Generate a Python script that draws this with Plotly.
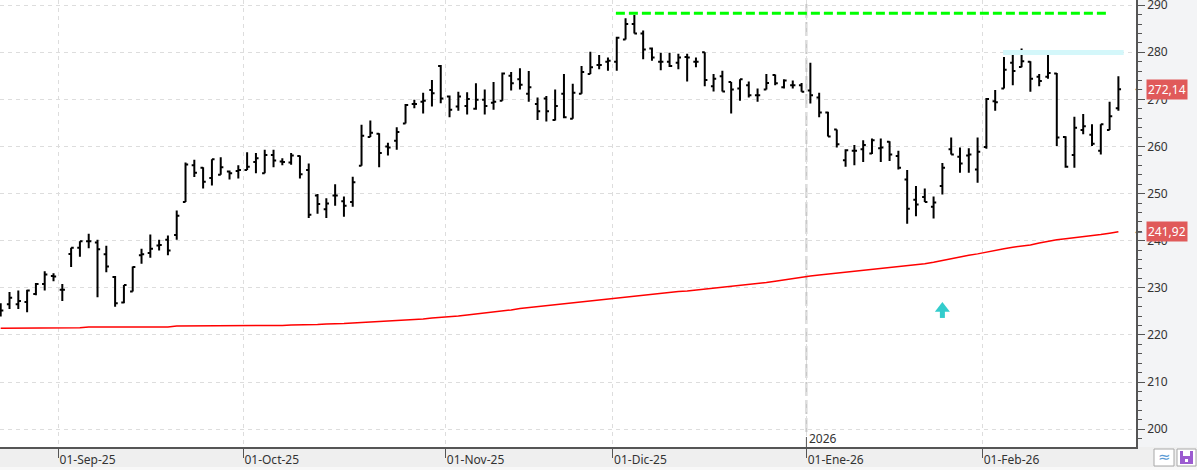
import plotly.graph_objects as go

# ---------------- data ----------------
opens = [225.5, 226.5, 226.5, 227.0, 228.7, 230.8, 232.5, 229.6, 237.2, 238.5,
         239.9, 239.6, 237.1, 232.3, 226.9, 229.2, 236.9, 237.4, 239.0, 240.2,
         241.2, 248.2, 256.0, 255.5, 253.3, 254.0, 254.7, 254.8, 255.0, 256.7,
         254.3, 258.2, 256.8, 256.6, 258.0, 255.0, 249.6, 246.7, 249.6, 248.4,
         248.2, 255.9, 262.0, 262.7, 260.0, 261.2, 264.9, 269.0, 269.5, 272.0,
         277.1, 270.6, 268.5, 268.6, 268.0, 269.9, 269.3, 269.7, 275.0, 274.3,
         271.2, 269.0, 270.2, 265.6, 271.2, 265.9, 271.2, 275.4, 277.3, 278.0,
         278.0, 282.7, 286.0, 284.0, 280.8, 278.0, 278.0, 277.8, 279.0, 278.0,
         280.0, 272.8, 274.9, 273.7, 272.3, 273.0, 270.9, 272.1, 275.2, 272.6,
         273.0, 273.0, 271.9, 270.4, 267.2, 263.6, 257.1, 259.1, 259.4, 258.5,
         259.6, 261.0, 258.0, 253.0, 248.7, 249.3, 247.2, 251.6, 259.4, 257.8,
         258.1, 255.1, 259.9, 269.6, 272.3, 277.8, 276.9, 278.0, 274.8, 274.8,
         275.5, 262.0, 258.2, 263.5, 262.5, 259.1, 263.5, 268.1]
highs = [226.7, 229.1, 229.4, 229.6, 231.0, 233.5, 233.1, 230.8, 238.5, 239.9,
         241.5, 240.2, 238.9, 232.5, 230.6, 234.5, 238.3, 241.3, 240.2, 241.1,
         246.4, 256.6, 257.2, 255.6, 257.3, 257.7, 254.9, 256.0, 258.8, 258.6,
         259.3, 259.3, 257.5, 258.6, 258.1, 256.4, 249.9, 249.0, 252.0, 249.4,
         253.6, 264.6, 265.5, 262.8, 260.8, 264.1, 269.0, 269.9, 271.4, 274.1,
         277.3, 270.8, 271.6, 271.5, 273.4, 272.1, 273.7, 275.7, 275.8, 276.6,
         276.0, 270.4, 270.7, 272.1, 275.4, 273.3, 277.1, 280.1, 279.4, 278.9,
         283.3, 287.2, 287.9, 284.6, 281.0, 279.9, 279.9, 279.7, 279.7, 278.9,
         280.0, 275.4, 276.1, 273.7, 274.3, 273.8, 272.3, 275.4, 275.3, 274.3,
         274.0, 273.5, 277.8, 271.4, 267.4, 263.6, 259.4, 260.3, 261.3, 261.7,
         261.7, 261.1, 259.1, 255.0, 251.6, 251.1, 249.4, 256.5, 261.9, 259.8,
         259.6, 261.9, 270.3, 272.0, 279.0, 279.4, 280.8, 278.1, 275.4, 280.3,
         275.6, 262.2, 266.3, 266.9, 264.7, 264.7, 269.5, 274.9]
lows = [223.9, 225.5, 225.5, 224.8, 228.4, 229.4, 231.4, 227.2, 234.4, 236.6,
        238.4, 228.0, 233.3, 226.0, 226.7, 229.2, 235.1, 236.4, 237.9, 236.9,
        240.2, 248.2, 253.5, 251.1, 251.7, 254.0, 253.0, 253.2, 255.0, 254.3,
        254.3, 255.6, 256.0, 256.1, 253.2, 244.8, 245.7, 244.8, 247.4, 245.1,
        247.2, 255.9, 262.0, 255.6, 258.1, 259.3, 264.9, 268.1, 267.0, 268.5,
        269.2, 266.2, 267.6, 266.8, 267.8, 266.8, 267.8, 269.7, 271.9, 272.1,
        269.5, 265.6, 265.3, 265.5, 266.0, 265.9, 271.2, 275.4, 276.4, 276.1,
        276.1, 282.7, 284.0, 278.5, 278.2, 276.2, 276.9, 276.4, 273.8, 276.8,
        272.8, 271.7, 271.7, 267.0, 269.7, 270.4, 269.5, 272.1, 273.0, 272.3,
        272.3, 271.6, 269.1, 266.2, 262.1, 259.8, 255.7, 256.0, 256.7, 258.4,
        256.7, 256.9, 255.1, 243.6, 245.2, 248.2, 244.7, 249.8, 258.3, 254.4,
        254.4, 252.3, 259.5, 267.6, 272.3, 273.0, 276.8, 271.6, 272.8, 274.4,
        260.1, 255.5, 255.5, 262.6, 260.1, 258.3, 263.5, 267.6]
closes = [225.2, 227.9, 227.2, 229.4, 230.8, 232.8, 232.4, 229.6, 238.5, 239.9,
          239.9, 238.2, 234.5, 226.7, 230.6, 234.4, 237.1, 238.3, 239.1, 237.9,
          245.3, 256.2, 254.4, 252.5, 257.3, 255.6, 254.3, 255.0, 255.7, 257.5,
          258.2, 257.0, 256.7, 258.1, 254.1, 245.5, 247.8, 247.9, 249.6, 247.4,
          252.4, 262.3, 262.9, 258.6, 259.8, 263.1, 268.8, 269.0, 269.7, 271.3,
          270.2, 267.8, 270.6, 270.1, 269.9, 268.6, 269.5, 275.5, 273.4, 273.1,
          272.6, 267.5, 267.5, 268.6, 266.2, 271.4, 275.8, 276.8, 277.3, 278.2,
          283.1, 286.0, 284.0, 280.6, 278.9, 278.0, 277.1, 278.9, 278.9, 278.0,
          274.1, 274.4, 271.7, 272.1, 274.3, 270.9, 270.9, 273.5, 273.4, 274.0,
          273.0, 271.6, 270.9, 267.2, 262.1, 260.5, 259.2, 259.1, 260.3, 261.3,
          259.8, 258.3, 255.5, 246.8, 247.7, 248.2, 248.1, 255.5, 258.3, 256.4,
          258.3, 258.9, 270.1, 269.4, 276.3, 276.0, 278.1, 274.4, 273.9, 275.6,
          261.9, 255.7, 264.0, 264.3, 260.6, 264.7, 266.4, 272.14]
moving_avg = [221.4, 221.4, 221.4, 221.4, 221.4, 221.4, 221.4,
              221.5, 221.5, 221.5,
              221.7, 221.7, 221.7, 221.7, 221.7, 221.7, 221.7, 221.7, 221.7, 221.7,
              221.9, 221.9, 221.9, 221.9, 221.9, 221.9, 221.9, 221.9, 221.9, 221.9, 221.9,
              222.0, 222.0, 222.1, 222.1, 222.2, 222.2, 222.3, 222.3, 222.4, 222.5, 222.6, 222.7,
              222.8, 222.9, 223.0, 223.1, 223.2, 223.4,
              223.6, 223.7, 223.9, 224.0, 224.2,
              224.4, 224.6, 224.9, 225.1, 225.3, 225.6,
              225.8, 226.0, 226.2, 226.4, 226.6, 226.9,
              227.1, 227.3, 227.5, 227.7, 227.9, 228.1, 228.3,
              228.4, 228.6, 228.8, 229.0, 229.2, 229.3, 229.5,
              229.7, 229.9, 230.1, 230.3, 230.4, 230.6, 230.8,
              231.1, 231.4, 231.7, 232.0, 232.3, 232.5, 232.7,
              232.9, 233.1, 233.3, 233.4, 233.6, 233.8,
              234.0, 234.2, 234.4, 234.6, 234.8, 235.1,
              235.4, 235.8, 236.1, 236.5, 236.9, 237.2, 237.6,
              238.0, 238.3, 238.6, 238.8, 239.1,
              239.5, 239.9, 240.2, 240.4, 240.6,
              240.8, 241.1, 241.3, 241.6, 241.92]

month_first_bar = [7, 28, 51, 70, 92, 112]
month_labels = ['01-Sep-25', '01-Oct-25', '01-Nov-25', '01-Dic-25', '01-Ene-26', '01-Feb-26']
year_first_bar = 92
year_label = '2026'
y_ticks = [200, 210, 220, 230, 240, 250, 260, 270, 280, 290]

resistance_level = 288.3
resistance_from, resistance_to = 69.9, 125.9
recent_high_level = 279.95
recent_high_from, recent_high_to = 113.9, 127.6
signal_bar = 107
signal_tip = 227.0

# ---------------- figure ----------------
W, H = 1197, 470
ML, MR, MT, MB = 0, 61, 0, 23
PW, PH = W - ML - MR, H - MT - MB

def px_x(p):
    return (p - ML) / PW

def px_y(p):
    return 1 - (p - MT) / PH

idx = list(range(len(closes)))
AX = '#555555'
TXT = '#333333'
FONT = 'Noto Sans'

fig = go.Figure()
fig.add_trace(go.Ohlc(
    x=idx, open=opens, high=highs, low=lows, close=closes,
    increasing=dict(line=dict(color='black', width=2)),
    decreasing=dict(line=dict(color='black', width=2)),
    tickwidth=0.3, showlegend=False, hoverinfo='skip'))
fig.add_trace(go.Scatter(x=idx, y=moving_avg, mode='lines',
                         line=dict(color='#ff0000', width=1.5),
                         showlegend=False, hoverinfo='skip'))
fig.add_trace(go.Scatter(x=[resistance_from, resistance_to], y=[resistance_level] * 2,
                         mode='lines', line=dict(color='#00ff00', width=3, dash='9px,4px'),
                         showlegend=False, hoverinfo='skip'))
fig.add_trace(go.Scatter(x=[recent_high_from, recent_high_to], y=[recent_high_level] * 2,
                         mode='lines', line=dict(color='#d4f7fa', width=5),
                         showlegend=False, hoverinfo='skip'))
# signal arrow (stem + head)
fig.add_trace(go.Scatter(x=[signal_bar, signal_bar], y=[signal_tip - 1.9, signal_tip - 3.4],
                         mode='lines', line=dict(color='#33cccc', width=5),
                         showlegend=False, hoverinfo='skip'))
fig.add_trace(go.Scatter(x=[signal_bar], y=[signal_tip - 1.4], mode='markers',
                         marker=dict(symbol='triangle-up', size=13, color='#33cccc',
                                     line=dict(width=0)),
                         showlegend=False, hoverinfo='skip'))

tickvals = [b - 0.45 for b in month_first_bar]
year_x = year_first_bar - 0.45

fig.update_layout(
    width=W, height=H,
    margin=dict(l=ML, r=MR, t=MT, b=MB, pad=0, autoexpand=False),
    paper_bgcolor='#efefef', plot_bgcolor='white',
    font=dict(family=FONT, size=12, color=TXT),
    showlegend=False,
    xaxis=dict(range=[-0.08, 129.0], rangeslider=dict(visible=False),
               tickvals=tickvals, ticktext=month_labels, automargin=False,
               showgrid=True, gridcolor='#dddddd', griddash='4px,4px', gridwidth=1,
               ticks='outside', ticklen=9, tickcolor=AX, tickwidth=1,
               ticklabelposition='outside right', ticklabelstandoff=1,
               ticklabeloverflow='allow',
               showline=True, linecolor=AX, linewidth=1.5, zeroline=False,
               tickfont=dict(family=FONT, size=12, color=TXT), fixedrange=True),
    yaxis=dict(side='right', range=[196.2, 291.1], tickvals=y_ticks, automargin=False,
               showgrid=True, gridcolor='#dddddd', griddash='4px,4px', gridwidth=1,
               ticks='outside', ticklen=7, tickcolor=AX, tickwidth=1,
               ticklabeloverflow='allow',
               minor=dict(dtick=2, tick0=0, ticks='outside', ticklen=4, tickcolor=AX,
                          showgrid=False),
               showline=True, linecolor=AX, linewidth=1.5, zeroline=False,
               tickfont=dict(family=FONT, size=12, color=TXT), fixedrange=True),
)

shapes = [
    # right axis panel background
    dict(type='rect', xref='paper', yref='paper', x0=1, x1=px_x(W), y0=0, y1=1,
         fillcolor='#f3f4f6', line=dict(width=0), layer='below'),
    # light strip at very bottom
    dict(type='rect', xref='paper', yref='paper', x0=px_x(0), x1=px_x(W),
         y0=px_y(H), y1=px_y(467), fillcolor='#f8f8f8', line=dict(width=0), layer='below'),
    # year separator
    dict(type='line', xref='x', yref='paper', x0=year_x, x1=year_x, y0=px_y(432), y1=1,
         line=dict(color='#c8c8c8', width=2, dash='14px,4px'), layer='below'),
    dict(type='line', xref='x', yref='paper', x0=year_x, x1=year_x, y0=0, y1=px_y(437),
         line=dict(color=AX, width=1)),
    # toolbar icons
    dict(type='rect', xref='paper', yref='paper', x0=px_x(1154), x1=px_x(1174),
         y0=px_y(466), y1=px_y(449), fillcolor='white', line=dict(color='#a8a8a8', width=1)),
    dict(type='rect', xref='paper', yref='paper', x0=px_x(1177), x1=px_x(1196),
         y0=px_y(466), y1=px_y(449), fillcolor='white', line=dict(color='#a8a8a8', width=1)),
    dict(type='rect', xref='paper', yref='paper', x0=px_x(1180), x1=px_x(1193),
         y0=px_y(464), y1=px_y(451), fillcolor='#9b5bd0', line=dict(width=0)),
    dict(type='rect', xref='paper', yref='paper', x0=px_x(1183), x1=px_x(1190),
         y0=px_y(456), y1=px_y(451), fillcolor='white', line=dict(width=0)),
    dict(type='rect', xref='paper', yref='paper', x0=px_x(1185), x1=px_x(1188),
         y0=px_y(462), y1=px_y(459), fillcolor='white', line=dict(width=0)),
]
fig.update_layout(shapes=shapes)

def price_tag(value, color):
    return [
        dict(xref='paper', yref='y', x=1, y=value, xanchor='left', yanchor='middle',
             xshift=-2, text='←', showarrow=False, borderpad=0,
             font=dict(size=9, color=AX, family='DejaVu Sans')),
        dict(xref='paper', yref='y', x=1, y=value, xanchor='left', yanchor='middle',
             xshift=10, text=f'{value:.2f}'.replace('.', ','), showarrow=False,
             bgcolor=color, borderpad=1, font=dict(size=12, color='white', family=FONT)),
    ]

annotations = []
annotations += price_tag(closes[-1], '#e05a5a')
annotations += price_tag(moving_avg[-1], '#e05a5a')
annotations.append(dict(xref='x', yref='paper', x=year_x, y=px_y(438), xanchor='left',
                        yanchor='middle', xshift=1, text=year_label, showarrow=False,
                        font=dict(size=12, color=TXT, family=FONT)))
annotations.append(dict(xref='paper', yref='paper', x=px_x(1164), y=px_y(457.5),
                        xanchor='center', yanchor='middle', text='≈', showarrow=False,
                        font=dict(size=15, color='#5b9bd5', family='DejaVu Sans')))
fig.update_layout(annotations=annotations)

fig.write_html('out.html')
